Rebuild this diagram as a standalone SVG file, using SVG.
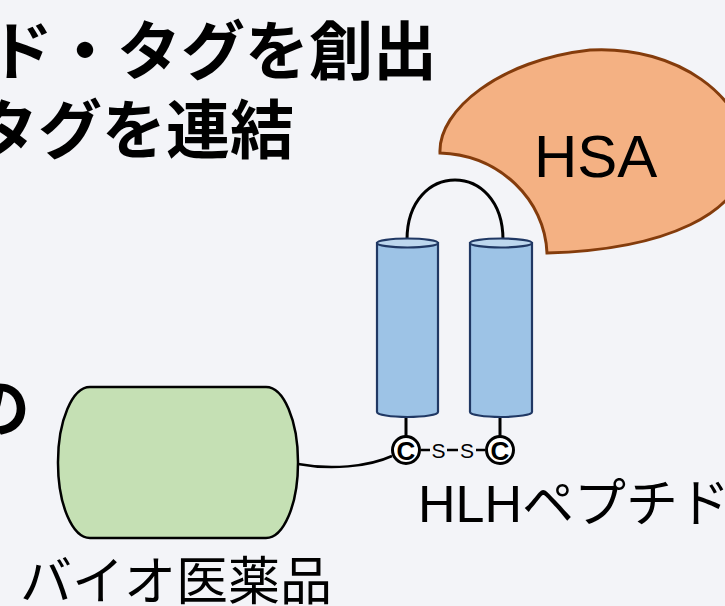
<svg xmlns="http://www.w3.org/2000/svg" width="725" height="606" viewBox="0 0 725 606">
  <style>
    .title { font-family: "Noto Sans CJK JP", "Noto Sans", sans-serif; font-weight: bold; font-size: 64px; fill: #000; }
    .label { font-family: "Liberation Sans", "Noto Sans CJK JP", sans-serif; font-size: 52px; fill: #000; }
    .helix { fill: #9dc3e6; stroke: #203864; stroke-width: 2.2; }
    .helix-top { fill: #bdd7ee; stroke: #203864; stroke-width: 2.2; }
    .wire { fill: none; stroke: #000; stroke-width: 3; }
    .thin { fill: none; stroke: #000; stroke-width: 2.5; }
    .cys { fill: #fff; stroke: #000; stroke-width: 3; }
    .cys-text { font-family: "Liberation Sans", Arial, sans-serif; font-weight: bold; font-size: 26px; fill: #000; text-anchor: middle; }
    .s-text { font-family: "Liberation Sans", Arial, sans-serif; font-size: 21px; fill: #000; text-anchor: middle; }
  </style>

  <rect width="725" height="606" fill="#f3f4f8"/>

  <!-- heading lines -->
  <text class="title" x="437" y="74" text-anchor="end">ド・タグを創出</text>
  <text class="title" x="294" y="153" text-anchor="end">タグを連結</text>
  <text class="title" x="30" y="431" text-anchor="end">の</text>

  <!-- connectors -->
  <g id="connectors">
    <!-- loop between the two helices -->
    <path class="wire" d="M407,240 C407,160 503,160 503,240"/>
    <!-- stubs from helices to cysteines -->
    <line class="wire" x1="406" y1="418" x2="406" y2="436"/>
    <line class="wire" x1="500" y1="418" x2="500" y2="436"/>
    <!-- drug to cysteine linker -->
    <path class="thin" d="M298,464 C330,470 368,467 392,456"/>
    <!-- disulfide bond -->
    <line class="thin" x1="421" y1="450" x2="430" y2="450"/>
    <line class="thin" x1="447" y1="450" x2="458" y2="450"/>
    <line class="thin" x1="476" y1="450" x2="485" y2="450"/>
  </g>

  <!-- HSA -->
  <g id="hsa">
    <path d="M440,153 C438,110 500,60 590,50 C680,45 745,100 745,150 C750,215 660,250 547,253 C545,200 500,155 440,153 Z" fill="#f4b183" stroke="#843c0c" stroke-width="3"/>
    <text x="534" y="177" font-family="Liberation Sans, Arial, sans-serif" font-size="60" fill="#000">HSA</text>
  </g>

  <!-- HLH peptide -->
  <g id="helix-left">
    <path class="helix" d="M377,243 L377,412 A30.5,5 0 0 0 438,412 L438,243 Z"/>
    <ellipse class="helix-top" cx="407.5" cy="243" rx="30.5" ry="4.5"/>
  </g>
  <g id="helix-right">
    <path class="helix" d="M470,243 L470,412 A31,5 0 0 0 532,412 L532,243 Z"/>
    <ellipse class="helix-top" cx="501" cy="243" rx="31" ry="4.5"/>
  </g>
  <g id="cys-left">
    <circle class="cys" cx="406" cy="450" r="13.5"/>
    <text class="cys-text" x="406" y="459.5">C</text>
  </g>
  <g id="cys-right">
    <circle class="cys" cx="500" cy="450" r="13.5"/>
    <text class="cys-text" x="500" y="459.5">C</text>
  </g>
  <g id="disulfide">
    <text class="s-text" x="438.5" y="457.5">S</text>
    <text class="s-text" x="467" y="457.5">S</text>
  </g>
  <g id="hlh-label">
    <text class="label" x="418" y="522">HLHペプチド</text>
  </g>

  <!-- biopharmaceutical -->
  <g id="drug">
    <rect x="58" y="387" width="240" height="151" rx="32" ry="75" fill="#c5e0b4" stroke="#000" stroke-width="2.5"/>
    <text class="label" x="20" y="600" font-family="Noto Sans CJK JP, sans-serif">バイオ医薬品</text>
  </g>
</svg>
